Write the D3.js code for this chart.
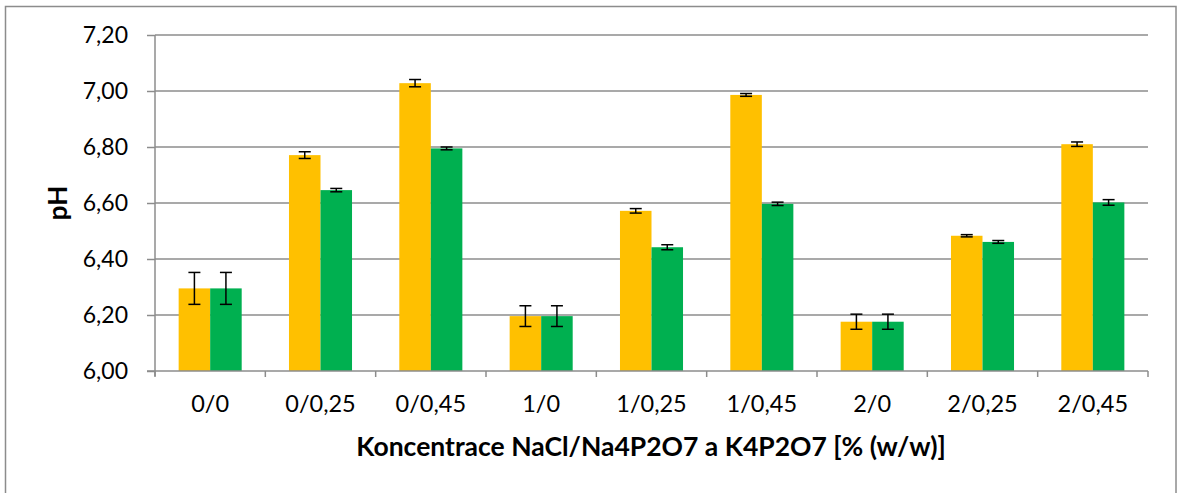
<!DOCTYPE html>
<html>
<head>
<meta charset="utf-8">
<script src="https://cdn.jsdelivr.net/npm/d3@7"></script>
<style>
  html, body { margin: 0; padding: 0; background: #fff; }
  svg { display: block; }
  text { font-family: Lato, "Open Sans", sans-serif; fill: #000; }
</style>
</head>
<body>
<svg id="chart" width="1178" height="493"></svg>
<script>
const categories = ["0/0", "0/0,25", "0/0,45", "1/0", "1/0,25", "1/0,45", "2/0", "2/0,25", "2/0,45"];
const seriesNames = ["NaCl/Na4P2O7", "NaCl/K4P2O7"];
const yellowValues = [6.295, 6.771, 7.028, 6.196, 6.572, 6.986, 6.176, 6.483, 6.810];
const yellowErrors = [0.057, 0.012, 0.013, 0.037, 0.008, 0.005, 0.027, 0.004, 0.008];
const greenValues  = [6.295, 6.646, 6.795, 6.196, 6.442, 6.597, 6.176, 6.461, 6.602];
const greenErrors  = [0.057, 0.006, 0.005, 0.037, 0.009, 0.006, 0.027, 0.005, 0.010];
const yTicks = [6.0, 6.2, 6.4, 6.6, 6.8, 7.0, 7.2];
const colors = ["#FFC000", "#00B050"];
const yTitle = "pH";
const xTitle = "Koncentrace NaCl/Na4P2O7 a K4P2O7 [% (w/w)]";

const svg = d3.select("#chart");
const plot = { left: 155, right: 1148, top: 35, bottom: 371 };

// outer frame
svg.append("rect").attr("x", 5.5).attr("y", 6.5).attr("width", 1170.5).attr("height", 490)
  .attr("fill", "#fff").attr("stroke", "#8c8c8c").attr("stroke-width", 1.5);

const x0 = d3.scaleBand().domain(categories).range([plot.left, plot.right]).paddingInner(0).paddingOuter(0);
const x1 = d3.scaleBand().domain(seriesNames).range([0, x0.bandwidth()]).paddingInner(0).paddingOuter(0.75);
const y = d3.scaleLinear().domain([6.0, 7.2]).range([plot.bottom, plot.top]);

const fmt = v => d3.format(".2f")(v).replace(".", ",");

// gridlines
svg.append("g").selectAll("line").data(yTicks.filter(t => t > 6.0)).join("line")
  .attr("x1", plot.left).attr("x2", plot.right)
  .attr("y1", d => y(d)).attr("y2", d => y(d))
  .attr("stroke", "#8c8c8c").attr("stroke-width", 1.5);

// y axis
const yAxis = svg.append("g").attr("transform", `translate(${plot.left},0)`)
  .call(d3.axisLeft(y).tickValues(yTicks).tickFormat(fmt).tickSize(8).tickPadding(19));
yAxis.select(".domain").attr("stroke", "#8c8c8c").attr("stroke-width", 1.5)
  .attr("d", `M0,${plot.top}V${plot.bottom + 5}`);
yAxis.selectAll(".tick line").attr("stroke", "#8c8c8c").attr("stroke-width", 1.5);
yAxis.selectAll(".tick text").style("font-size", "23px").style("font-family", "Lato, sans-serif").attr("fill", "#000");

// bars
const data = categories.map((c, i) => ({
  cat: c,
  vals: [
    { s: seriesNames[0], v: yellowValues[i], e: yellowErrors[i], c: colors[0] },
    { s: seriesNames[1], v: greenValues[i], e: greenErrors[i], c: colors[1] }
  ]
}));

const groups = svg.append("g").selectAll("g").data(data).join("g")
  .attr("transform", d => `translate(${x0(d.cat)},0)`);

groups.selectAll("rect").data(d => d.vals).join("rect")
  .attr("x", d => x1(d.s)).attr("width", x1.bandwidth())
  .attr("y", d => y(d.v)).attr("height", d => y(6.0) - y(d.v))
  .attr("fill", d => d.c);

// x axis
const xAxisG = svg.append("g");
xAxisG.append("line").attr("x1", plot.left - 8).attr("x2", plot.right)
  .attr("y1", plot.bottom).attr("y2", plot.bottom)
  .attr("stroke", "#8c8c8c").attr("stroke-width", 1.5);
const boundaries = categories.map(c => x0(c)).concat([x0.range()[1]]);
xAxisG.selectAll("line.tk").data(boundaries).join("line").attr("class", "tk")
  .attr("x1", d => d).attr("x2", d => d)
  .attr("y1", plot.bottom).attr("y2", plot.bottom + 6)
  .attr("stroke", "#8c8c8c").attr("stroke-width", 1.5);
xAxisG.selectAll("text").data(categories).join("text")
  .attr("x", d => x0(d) + x0.bandwidth() / 2).attr("y", 412)
  .attr("text-anchor", "middle").style("font-size", "23.5px").text(d => d);

// error bars
const cap = 6;
const eb = groups.selectAll("g.err").data(d => d.vals).join("g").attr("class", "err");
eb.append("line")
  .attr("x1", d => x1(d.s) + x1.bandwidth() / 2).attr("x2", d => x1(d.s) + x1.bandwidth() / 2)
  .attr("y1", d => y(d.v + d.e)).attr("y2", d => y(d.v - d.e))
  .attr("stroke", "#000").attr("stroke-width", 1.5);
eb.append("line")
  .attr("x1", d => x1(d.s) + x1.bandwidth() / 2 - cap).attr("x2", d => x1(d.s) + x1.bandwidth() / 2 + cap)
  .attr("y1", d => y(d.v + d.e)).attr("y2", d => y(d.v + d.e))
  .attr("stroke", "#000").attr("stroke-width", 1.5);
eb.append("line")
  .attr("x1", d => x1(d.s) + x1.bandwidth() / 2 - cap).attr("x2", d => x1(d.s) + x1.bandwidth() / 2 + cap)
  .attr("y1", d => y(d.v - d.e)).attr("y2", d => y(d.v - d.e))
  .attr("stroke", "#000").attr("stroke-width", 1.5);

// titles
svg.append("text").attr("x", 651).attr("y", 456).attr("text-anchor", "middle")
  .style("font-size", "26.5px").style("font-weight", "bold").text(xTitle);
svg.append("text").attr("transform", `translate(67,${(plot.top + plot.bottom) / 2}) rotate(-90)`)
  .attr("text-anchor", "middle").style("font-size", "26px").style("font-weight", "bold").text(yTitle);
</script>
</body>
</html>
